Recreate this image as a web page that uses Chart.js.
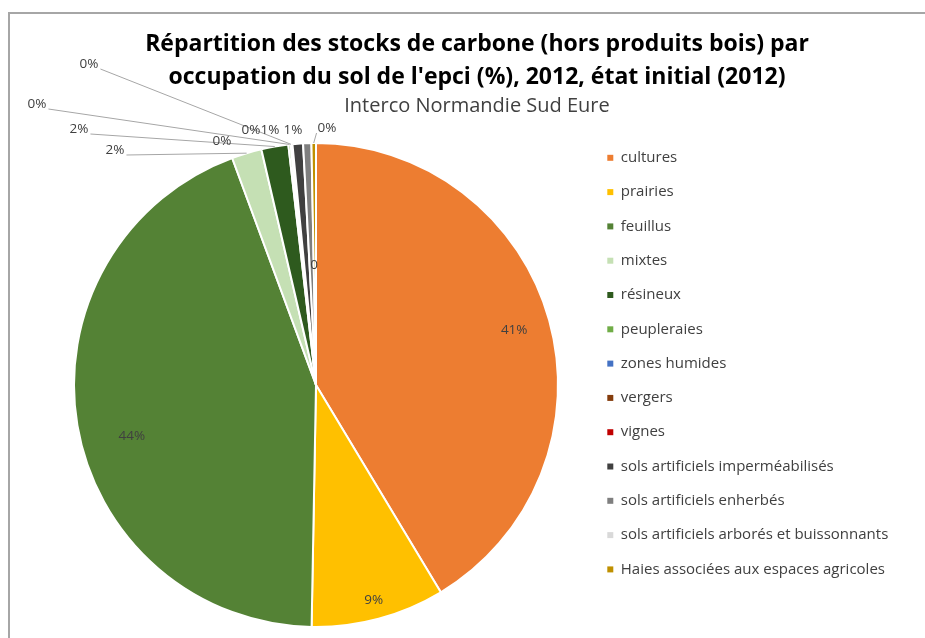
<!DOCTYPE html>
<html>
<head>
<meta charset="UTF-8">
<title>Stocks de carbone</title>
<script src="https://cdn.jsdelivr.net/npm/chart.js@4.4.0/dist/chart.umd.min.js"></script>
<style>
  html, body { margin: 0; padding: 0; background: #fff; }
  #wrap { width: 925px; height: 638px; position: relative; }
</style>
</head>
<body>
<div id="wrap"><canvas id="pie-chart"></canvas></div>
<script>
// data (shares in %)
const categories = ['cultures', 'prairies', 'feuillus', 'mixtes', 'résineux', 'peupleraies',
  'zones humides', 'vergers', 'vignes', 'sols artificiels imperméabilisés',
  'sols artificiels enherbés', 'sols artificiels arborés et buissonnants',
  'Haies associées aux espaces agricoles'];
const values = [41.3, 8.9, 44.0, 2.0, 1.8, 0.15, 0.05, 0.05, 0.02, 0.7, 0.55, 0, 0.3];
const colours = ['#ED7D31', '#FFC000', '#548235', '#C5E0B4', '#2E5A1E', '#70AD47',
  '#4472C4', '#843C0C', '#C00000', '#404040', '#7F7F7F', '#D9D9D9', '#BF9000'];

const FONT = "'Open Sans', Lato, sans-serif";

// where each data label goes: r = fraction of radius (inside), dx/dy = offset from centre
const labelSpots = [
  { r: 0.85 },
  { r: 0.92 },
  { r: 0.79, da: -6 },
  { dx: -201, dy: -235, line: 'right' },
  { dx: -237, dy: -256, line: 'right' },
  { dx: -279, dy: -281, line: 'right' },
  { dx: -227, dy: -321, line: 'right' },
  { dx: -94, dy: -244 },
  { dx: -65, dy: -255 },
  { dx: -46, dy: -255 },
  { dx: -23, dy: -255 },
  { dx: -2, dy: -120 },
  { dx: 11, dy: -257, line: 'left' }
];

const pieLabels = {
  id: 'pieLabels',
  afterDatasetsDraw(chart, args, opts) {
    const ctx = chart.ctx;
    const meta = chart.getDatasetMeta(0);
    const data = chart.data.datasets[0].data;
    const total = data.reduce((a, b) => a + b, 0);
    ctx.save();
    ctx.font = opts.font;
    ctx.textAlign = 'center';
    ctx.textBaseline = 'middle';
    meta.data.forEach((arc, i) => {
      const spot = opts.spots[i];
      const v = data[i];
      const text = v === 0 ? '0' : Math.round(v / total * 100) + '%';
      const mid = (arc.startAngle + arc.endAngle) / 2;
      let x, y;
      if (spot.r !== undefined) {
        const a = mid + (spot.da || 0) * Math.PI / 180;
        x = arc.x + Math.cos(a) * arc.outerRadius * spot.r;
        y = arc.y + Math.sin(a) * arc.outerRadius * spot.r;
      } else {
        x = arc.x + spot.dx;
        y = arc.y + spot.dy;
        if (spot.line) {
          const w = ctx.measureText(text).width;
          const sx = spot.line === 'right' ? x + w / 2 + 2 : x - w / 2 - 1;
          ctx.strokeStyle = opts.lineColor;
          ctx.lineWidth = 1;
          ctx.beginPath();
          ctx.moveTo(sx, y + 5);
          ctx.lineTo(arc.x + Math.cos(mid) * arc.outerRadius, arc.y + Math.sin(mid) * arc.outerRadius);
          ctx.stroke();
        }
      }
      ctx.fillStyle = opts.color;
      ctx.fillText(text, x, y);
    });
    ctx.restore();
  }
};

// grey frame like the spreadsheet chart, plus legend placement
const frame = {
  id: 'frame',
  beforeInit(chart) {
    const fit = chart.legend.fit;
    chart.legend.fit = function () {
      fit.call(this);
      this.width = 322;
    };
  },
  afterLayout(chart) {
    chart.legend.top -= 11;
    chart.legend.bottom -= 11;
  },
  beforeDraw(chart) {
    const ctx = chart.ctx;
    ctx.save();
    ctx.strokeStyle = '#A6A6A6';
    ctx.lineWidth = 2;
    ctx.strokeRect(9, 13, 1000, 1000);
    ctx.restore();
  }
};

new Chart(document.getElementById('pie-chart'), {
  type: 'pie',
  data: {
    labels: categories,
    datasets: [{
      data: values,
      backgroundColor: colours,
      borderColor: '#FFFFFF',
      borderWidth: 2
    }]
  },
  options: {
    responsive: true,
    maintainAspectRatio: false,
    animation: false,
    layout: { padding: { top: 12, left: 44, right: 15, bottom: 10 } },
    plugins: {
      title: {
        display: true,
        text: ['Répartition des stocks de carbone (hors produits bois) par',
               "occupation du sol de l'epci (%), 2012, état initial (2012)"],
        color: '#000000',
        font: { family: FONT, size: 23, weight: 'bold', lineHeight: 1.435 },
        padding: { top: 16, bottom: 0 }
      },
      subtitle: {
        display: true,
        text: 'Interco Normandie Sud Eure',
        color: '#404040',
        font: { family: FONT, size: 20, lineHeight: 1.0 },
        padding: { top: 2, bottom: 26 }
      },
      legend: {
        position: 'right',
        align: 'start',
        fullSize: false,
        labels: {
          color: '#404040',
          font: { family: FONT, size: 15 },
          boxWidth: 6,
          boxHeight: 6,
          padding: 19.3,
          generateLabels(chart) {
            return Chart.overrides.pie.plugins.legend.labels.generateLabels(chart)
              .map(item => Object.assign(item, { lineWidth: 0 }));
          }
        }
      },
      tooltip: { enabled: false },
      pieLabels: {
        spots: labelSpots,
        font: '13.5px ' + FONT,
        color: '#404040',
        lineColor: '#A6A6A6'
      }
    }
  },
  plugins: [pieLabels, frame]
});
</script>
</body>
</html>
